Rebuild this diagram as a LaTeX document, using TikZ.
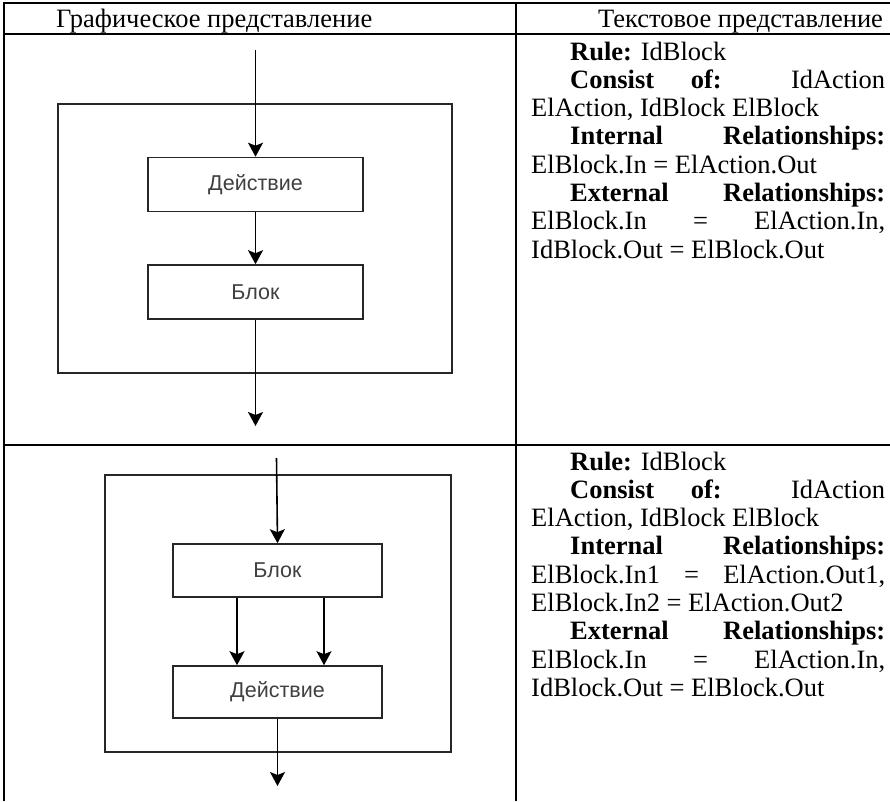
\documentclass[tikz,border=0pt]{standalone}
\usepackage{fontspec}
\setmainfont{Liberation Serif}
\newfontfamily\boxfont{Liberation Sans}
\usetikzlibrary{arrows.meta}
\tikzset{
  grid/.style={line width=2.2pt, black},
  frame/.style={draw=black!85, line width=1.6pt},
  blockbox/.style={draw=black!85, line width=1.6pt, minimum width=#1, minimum height=54pt,
    inner sep=0pt, font=\boxfont\fontsize{21.5}{24}\selectfont, text=black!75},
  arr/.style={draw=black, line width=1.6pt, -{Stealth[length=14pt,width=15pt,inset=3pt]}},
  hdr/.style={anchor=base west, inner sep=0pt, font=\fontsize{26.5}{28.3}\selectfont},
  body/.style={anchor=base west, inner sep=0pt, text width=354pt, align=justify,
    font=\fontsize{26.5}{28.3}\selectfont}
}
\begin{document}
\begin{tikzpicture}[x=1pt,y=-1pt]
\useasboundingbox (0,0) rectangle (890,801);
% table
\draw[grid] (3,3) -- (890,3);
\draw[grid] (3,34) -- (890,34);
\draw[grid] (3,445) -- (890,445);
\draw[grid] (4,2) -- (4,801);
\draw[grid] (516,2) -- (516,801);
% headers
\node[hdr] (h1) at (56,27) {Графическое представление};
\node[hdr] (h2) at (598,27) {Текстовое представление};
% top diagram
\node[frame, minimum width=394pt, minimum height=269pt, inner sep=0pt] (outer1) at (255,238.5) {};
\node[blockbox=215pt] (act1) at (255.5,184.5) {Действие};
\node[blockbox=215pt] (blk1) at (255.5,292) {Блок};
\coordinate (in1) at (255.5,50);
\coordinate (out1) at (255.5,426);
\draw[arr] (in1) -- (act1.north);
\draw[arr] (act1.south) -- (blk1.north);
\draw[arr] (blk1.south) -- (out1);
% bottom diagram
\node[frame, minimum width=346pt, minimum height=277pt, inner sep=0pt] (outer2) at (278,613.5) {};
\node[blockbox=209pt, minimum height=53pt] (blk2) at (277.5,570.5) {Блок};
\node[blockbox=209pt, minimum height=52pt] (act2) at (277.5,692) {Действие};
\coordinate (in2) at (276.5,458);
\coordinate (out2) at (277.5,786);
\draw[arr] (in2) -- (blk2.north);
\draw[arr] ([xshift=-40.5pt]blk2.south) -- ([xshift=-40.5pt]act2.north);
\draw[arr] ([xshift=46.5pt]blk2.south) -- ([xshift=46.5pt]act2.north);
\draw[arr] (act2.south) -- (out2);
% texts
\node[body] (t1) at (531,60) {%
\hspace*{39pt}\textbf{Rule:} IdBlock\par
\hspace*{39pt}\textbf{Consist of:} IdAction\linebreak ElAction, IdBlock ElBlock\par
\hspace*{39pt}\textbf{Internal Relationships:}\linebreak ElBlock.In = ElAction.Out\par
\hspace*{39pt}\textbf{External Relationships:}\linebreak ElBlock.In = ElAction.In,\linebreak IdBlock.Out = ElBlock.Out\par};
\node[body] (t2) at (531,470) {%
\hspace*{39pt}\textbf{Rule:} IdBlock\par
\hspace*{39pt}\textbf{Consist of:} IdAction\linebreak ElAction, IdBlock ElBlock\par
\hspace*{39pt}\textbf{Internal Relationships:}\linebreak ElBlock.In1 = ElAction.Out1,\linebreak ElBlock.In2 = ElAction.Out2\par
\hspace*{39pt}\textbf{External Relationships:}\linebreak ElBlock.In = ElAction.In,\linebreak IdBlock.Out = ElBlock.Out\par};
\end{tikzpicture}
\end{document}
